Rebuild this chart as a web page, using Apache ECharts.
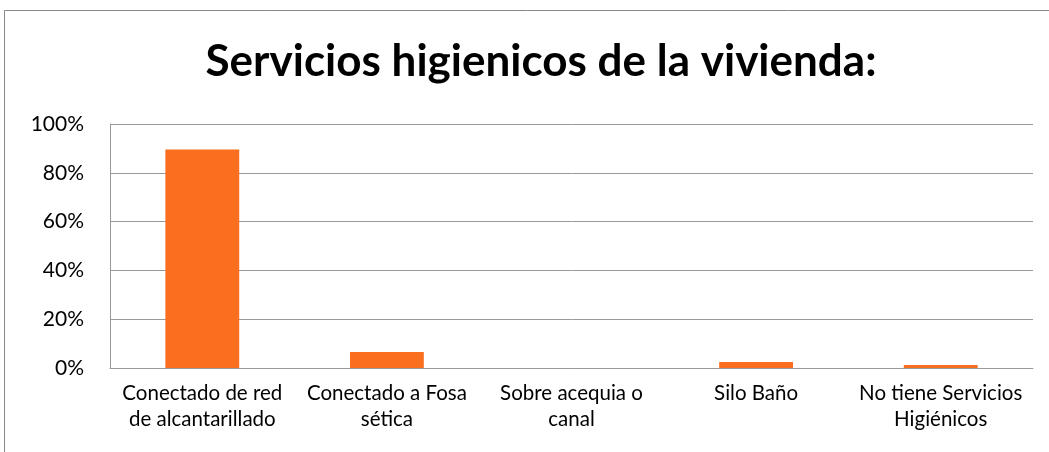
<!DOCTYPE html>
<html style="height: 100%">
  <head>
    <meta charset="utf-8" />
    <script src="https://cdn.jsdelivr.net/npm/echarts@6/dist/echarts.min.js"></script>
  </head>
  <body style="height: 100%; margin: 0; background: #fff">
    <div id="container" style="width: 1049px; height: 452px"></div>
    <script type="text/javascript">
      var categories = [
        "Conectado de red\nde alcantarillado",
        "Conectado a Fosa\nsética",
        "Sobre acequia o\ncanal",
        "Silo Baño",
        "No tiene Servicios\nHigiénicos",
      ];
      var values = [89.5, 6.6, 0, 2.5, 1.2];
      var yTicks = [0, 20, 40, 60, 80, 100];

      var myChart = echarts.init(document.getElementById("container"));

      var option = {
        backgroundColor: "#fff",
        animation: false,
        title: {
          text: "Servicios higienicos de la vivienda:",
          left: 536,
          textAlign: "center",
          top: 35,
          textStyle: {
            fontFamily: "Lato",
            fontWeight: "bold",
            fontSize: 44,
            color: "#000",
          },
        },
        graphic: [
          {
            type: "rect",
            shape: { x: 4.5, y: 10.5, width: 1060, height: 460 },
            style: { fill: "none", stroke: "#888", lineWidth: 1 },
            silent: true,
          },
        ],
        grid: { left: 110, right: 16, top: 124, bottom: 84 },
        xAxis: {
          type: "category",
          data: categories,
          axisLine: { show: true, lineStyle: { color: "#999", width: 1 } },
          axisTick: { show: false },
          axisLabel: {
            interval: 0,
            fontFamily: "Lato",
            fontSize: 20.5,
            color: "#000",
            lineHeight: 26,
            margin: 12,
          },
        },
        yAxis: {
          type: "value",
          min: yTicks[0],
          max: yTicks[yTicks.length - 1],
          interval: 20,
          axisLine: { show: true, lineStyle: { color: "#999", width: 1 } },
          axisTick: { show: false },
          splitLine: { lineStyle: { color: "#999", width: 1 } },
          axisLabel: {
            formatter: "{value}%",
            fontFamily: "Lato",
            fontSize: 21,
            color: "#000",
            margin: 26,
          },
        },
        series: [
          {
            type: "bar",
            data: values,
            barWidth: "40%",
            itemStyle: { color: "#F96F1F" },
          },
        ],
      };

      myChart.setOption(option);
    </script>
  </body>
</html>
